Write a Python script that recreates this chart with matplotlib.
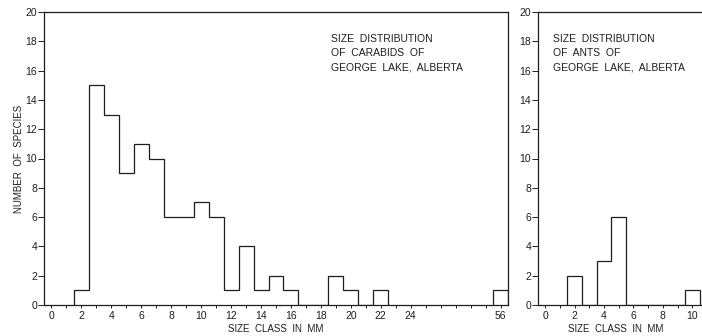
import matplotlib
matplotlib.use('Agg')
import matplotlib.pyplot as plt
import numpy as np

plt.rcParams['font.family'] = ['Liberation Sans', 'DejaVu Sans']

# carabids: size class (mm) and number of species
carabid_sizes = [2, 3, 4, 5, 6, 7, 8, 9, 10, 11, 12, 13, 14, 15, 16, 17, 18, 19, 20, 21, 22, 56]
carabid_counts = [1, 15, 13, 9, 11, 10, 6, 6, 7, 6, 1, 4, 1, 2, 1, 0, 0, 2, 1, 0, 1, 1]

# ants (panel is cut off on the right in the original)
ant_sizes = [2, 3, 4, 5, 6, 7, 8, 9, 10]
ant_counts = [2, 0, 3, 6, 0, 0, 0, 0, 1]

carabid_ticks = [0, 2, 4, 6, 8, 10, 12, 14, 16, 18, 20, 22, 24, 56]
ant_ticks = [0, 2, 4, 6, 8, 10, 12]

ink = '#1e1e1e'
W, H = 702, 336
fig = plt.figure(figsize=(W / 100, H / 100), dpi=100)


def px_axes(x0, y0, x1, y1):
    return fig.add_axes([x0 / W, 1 - y1 / H, (x1 - x0) / W, (y1 - y0) / H])


def to_pos(s):
    # broken axis: 56 mm drawn in slot 30
    return 30 if s == 56 else s


def style(ax, xmax, ticks):
    ax.set_ylim(0, 20)
    ax.set_xlim(-0.5, xmax)
    ax.set_yticks(range(0, 21, 2))
    ax.set_xticks([to_pos(t) for t in ticks])
    ax.set_xticklabels([str(t) for t in ticks])
    ax.set_xticks(np.arange(0, int(xmax) + 1), minor=True)
    ax.tick_params(axis='both', which='both', direction='out', colors=ink,
                   labelsize=7.5, width=0.7)
    ax.tick_params(axis='y', length=4, pad=1)
    ax.tick_params(axis='x', which='major', length=2.5, pad=2)
    ax.tick_params(axis='x', which='minor', length=2)
    for sp in ax.spines.values():
        sp.set_color(ink)
        sp.set_linewidth(0.9)
    ax.set_xlabel('SIZE  CLASS  IN  MM', fontsize=7, color=ink)


def note(x, y, s):
    fig.text(x / W, 1 - y / H, s, fontsize=7.5, color=ink, va='center',
             linespacing=1.5)


# left panel
ax1 = px_axes(44, 12, 508, 305)
pos = [to_pos(s) for s in carabid_sizes]
edges = np.array(pos[:-1] + [pos[-2] + 1]) - 0.5
ax1.stairs(carabid_counts[:-1], edges, color=ink, lw=0.9, baseline=0)
ax1.stairs(carabid_counts[-1:], [pos[-1] - 0.5, pos[-1] + 0.5], color=ink, lw=0.9, baseline=0)
style(ax1, 30.5, carabid_ticks)
ax1.xaxis.set_label_coords(0.5, -0.065)
ax1.yaxis.set_label_coords(-0.044, 0.5)
ax1.set_ylabel('NUMBER  OF  SPECIES', fontsize=7, color=ink)
note(331, 53, 'SIZE  DISTRIBUTION\nOF  CARABIDS  OF\nGEORGE  LAKE,  ALBERTA')

# right panel (extends past the image edge)
ax2 = px_axes(538, 12, 729, 305)
edges2 = np.array(ant_sizes + [ant_sizes[-1] + 1]) - 0.5
ax2.stairs(ant_counts, edges2, color=ink, lw=0.9, baseline=0)
style(ax2, 12.5, ant_ticks)
ax2.xaxis.set_label_coords(0.405, -0.065)
note(553, 53, 'SIZE  DISTRIBUTION\nOF  ANTS  OF\nGEORGE  LAKE,  ALBERTA')

fig.savefig('out.png', dpi=100)
